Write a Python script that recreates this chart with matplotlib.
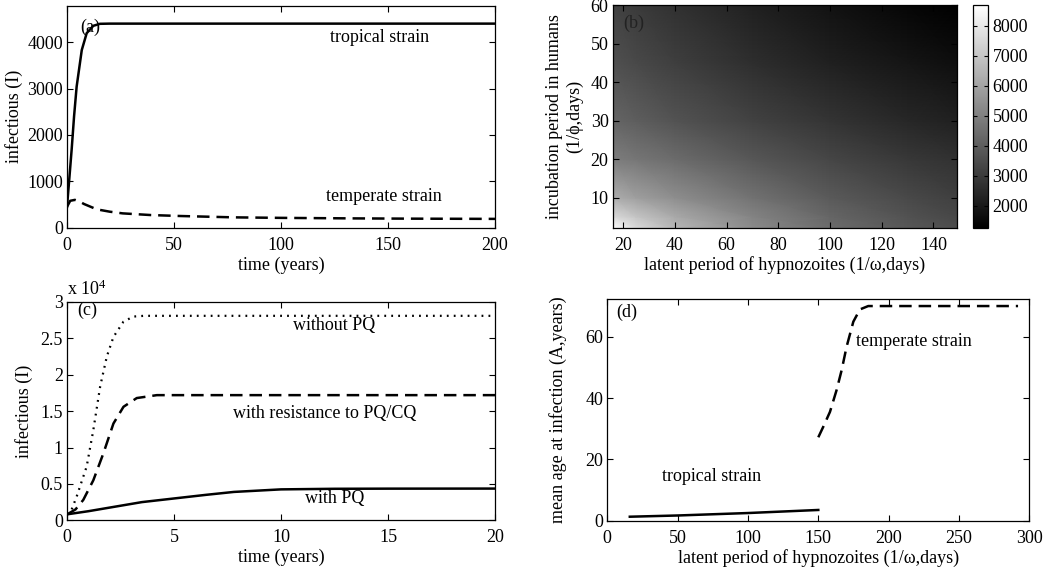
import numpy as np
import matplotlib
matplotlib.use("Agg")
import matplotlib.pyplot as plt
from matplotlib.ticker import FormatStrFormatter

plt.rcParams['font.family'] = ['Liberation Serif', 'DejaVu Serif']
plt.rcParams['mathtext.default'] = 'regular'
plt.rcParams['lines.scale_dashes'] = False
plt.rcParams['font.size'] = 13

# ---- panel (a): infectious vs time (years) ----
a_trop_t = [0, 1.4, 2.2, 3.3, 4.5, 6.9, 9.2, 12.3, 15.4, 20, 50, 100, 150, 200]
a_trop_I = [450, 1240, 1700, 2400, 3040, 3830, 4194, 4353, 4396, 4400, 4400, 4400, 4400, 4400]
a_temp_t = [0, 1.5, 3.7, 6, 8, 13.9, 20, 26, 39, 53, 78, 100, 132, 160, 200]
a_temp_I = [450, 580, 600, 560, 510, 396, 345, 309, 273, 252, 223, 212, 201, 195, 190]

# ---- panel (b): heat map ----
b_x = [16, 25, 40, 70, 100, 130, 150]   # latent period of hypnozoites
b_y = [2, 5, 10, 20, 30, 45, 60]        # incubation period in humans
b_z = [
    [8690, 7600, 6600, 5300, 4400, 3800, 3500],
    [7600, 7000, 6200, 5100, 4250, 3650, 3350],
    [6300, 5900, 5400, 4600, 3900, 3400, 3100],
    [4900, 4700, 4400, 3800, 3300, 2900, 2700],
    [4200, 4000, 3700, 3200, 2800, 2400, 2200],
    [3600, 3400, 3100, 2600, 2200, 1900, 1700],
    [3200, 3000, 2700, 2200, 1800, 1450, 1265],
]

# ---- panel (c): infectious vs time (years) ----
c_noPQ_t = [0, 0.22, 0.45, 0.92, 1.23, 1.55, 1.86, 2.17, 2.64, 3.1, 3.6, 5, 10, 15, 20]
c_noPQ_I = [800, 1500, 3250, 7400, 12400, 18400, 22500, 25200, 27300, 28000, 28100, 28100, 28100, 28100, 28100]
c_res_t = [0, 0.4, 0.76, 1.23, 1.7, 2.17, 2.64, 3.26, 4.2, 5, 10, 15, 20]
c_res_I = [800, 1500, 2800, 5500, 9200, 13300, 15600, 16800, 17200, 17200, 17200, 17200, 17200]
c_PQ_t = [0, 1, 2.3, 3.5, 5, 6.5, 7.8, 10, 12.5, 15, 20]
c_PQ_I = [820, 1250, 1900, 2500, 3000, 3500, 3900, 4250, 4330, 4350, 4360]

# ---- panel (d): mean age at infection ----
d_trop_x = [16, 50, 100, 150]
d_trop_A = [1.3, 1.7, 2.5, 3.5]
d_temp_x = [150, 153.6, 158.3, 163, 166.6, 170.1, 174.9, 179.6, 185.5, 200, 250, 292]
d_temp_A = [27.2, 30.7, 35.5, 42.6, 49.1, 56.7, 64.9, 68.9, 70.0, 70.0, 70.0, 70.0]

W, H = 1050, 567
fig = plt.figure(figsize=(W / 100, H / 100), dpi=100)

def style(ax):
    ax.tick_params(direction='in', top=True, right=True, length=4, width=0.8, labelsize=13, pad=3)
    ax.tick_params(axis='x', pad=6.5)
    for s in ax.spines.values():
        s.set_linewidth(0.9)

lw = 1.8
dash = (9, 5)

# (a)
axa = fig.add_axes([67 / W, 1 - 227.7 / H, (495 - 67) / W, (227.7 - 6) / H])
axa.plot(a_trop_t, a_trop_I, color='black', lw=lw)
axa.plot(a_temp_t, a_temp_I, color='black', lw=lw, dashes=dash)
axa.set_xlim(0, 200)
axa.set_ylim(0, 4780)
axa.set_xticks([0, 50, 100, 150, 200])
axa.set_yticks([0, 1000, 2000, 3000, 4000])
axa.set_xlabel('time (years)', labelpad=2)
axa.set_ylabel('infectious (I)', labelpad=3)
axa.text(6, 4330, '(a)', ha='left', va='center')
axa.text(146, 4110, 'tropical strain', ha='center', va='center')
axa.text(148, 680, 'temperate strain', ha='center', va='center')
style(axa)

# (b)
axb = fig.add_axes([612.7 / W, 1 - 227.7 / H, (956.7 - 612.7) / W, (227.7 - 5.3) / H])
mesh = axb.pcolormesh(b_x, b_y, np.array(b_z), shading='gouraud', cmap='gray',
                      vmin=1265, vmax=8690, rasterized=True)
axb.set_xlim(16, 149)
axb.set_ylim(2.2, 60)
axb.set_xticks([20, 40, 60, 80, 100, 120, 140])
axb.set_yticks([10, 20, 30, 40, 50, 60])
axb.set_xlabel('latent period of hypnozoites (1/\u03c9,days)', labelpad=2)
axb.set_ylabel('incubation period in humans\n(1/\u03d5,days)', labelpad=5, linespacing=1.25)
axb.text(24, 55.4, '(b)', ha='center', va='center', color='#222222')
style(axb)
cax = fig.add_axes([973.3 / W, 1 - 227.7 / H, 15 / W, (227.7 - 5.3) / H])
cb = fig.colorbar(mesh, cax=cax)
cb.set_ticks([2000, 3000, 4000, 5000, 6000, 7000, 8000])
cax.tick_params(direction='in', length=3, labelsize=13, left=True, right=True, pad=3)
cb.outline.set_linewidth(0.9)

# (c)
axc = fig.add_axes([67 / W, 1 - 520.3 / H, (495 - 67) / W, (520.3 - 302) / H])
axc.plot(c_noPQ_t, np.array(c_noPQ_I) / 1e4, color='black', lw=1.6, dashes=(1.3, 3.7))
axc.plot(c_res_t, np.array(c_res_I) / 1e4, color='black', lw=lw, dashes=dash)
axc.plot(c_PQ_t, np.array(c_PQ_I) / 1e4, color='black', lw=lw)
axc.set_xlim(0, 20)
axc.set_ylim(0, 3)
axc.set_xticks([0, 5, 10, 15, 20])
axc.set_yticks([0, 0.5, 1, 1.5, 2, 2.5, 3])
axc.yaxis.set_major_formatter(FormatStrFormatter('%g'))
axc.set_xlabel('time (years)', labelpad=2)
axc.set_ylabel('infectious (I)', labelpad=5)
axc.text(0.95, 2.88, '(c)', ha='center', va='center')
axc.text(12.5, 2.68, 'without PQ', ha='center', va='center')
axc.text(12.06, 1.47, 'with resistance to PQ/CQ', ha='center', va='center')
axc.text(12.5, 0.30, 'with PQ', ha='center', va='center')
axc.text(0.0, 1.015, 'x 10$^{4}$', transform=axc.transAxes, ha='left', va='bottom')
style(axc)

# (d)
axd = fig.add_axes([607.3 / W, 1 - 520.7 / H, (1029.3 - 607.3) / W, (520.7 - 299.3) / H])
axd.plot(d_trop_x, d_trop_A, color='black', lw=lw)
axd.plot(d_temp_x, d_temp_A, color='black', lw=lw, dashes=dash)
axd.set_xlim(0, 300)
axd.set_ylim(0, 72.2)
axd.set_xticks([0, 50, 100, 150, 200, 250, 300])
axd.set_yticks([0, 20, 40, 60])
axd.set_xlabel('latent period of hypnozoites (1/\u03c9,days)', labelpad=2)
axd.set_ylabel('mean age at infection (A,years)', labelpad=13)
axd.text(13.7, 67.8, '(d)', ha='center', va='center')
axd.text(218, 58.6, 'temperate strain', ha='center', va='center')
axd.text(74.4, 14.3, 'tropical strain', ha='center', va='center')
style(axd)

fig.savefig('out.png', dpi=100)
